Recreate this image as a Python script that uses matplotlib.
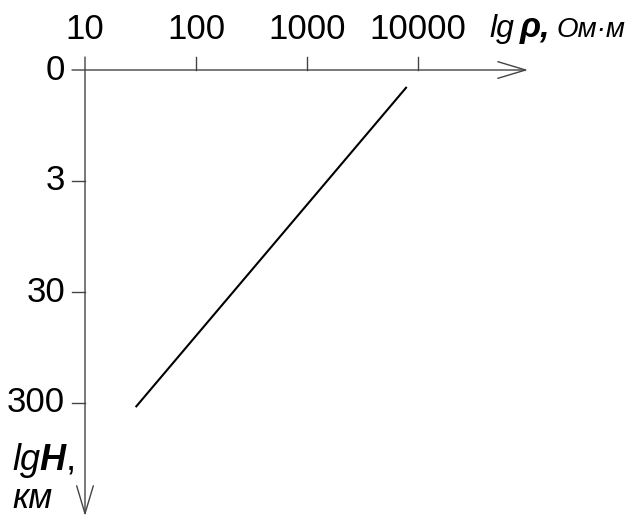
import numpy as np
import matplotlib
matplotlib.use('Agg')
import matplotlib.pyplot as plt

# resistivity axis (Ohm*m), log scale
rho_ticks = [10, 100, 1000, 10000]
rho_labels = ['10', '100', '1000', '10000']
# depth axis: one decade per step, labels as drawn
depth_pos = [0, 1, 2, 3]
depth_labels = ['0', '3', '30', '300']
# the line: resistivity vs depth position
line_rho = [7800, 29]
line_depth = [0.16, 3.03]

plt.rcParams['font.family'] = ['Liberation Sans', 'DejaVu Sans']

fig = plt.figure(figsize=(6.39, 5.29), dpi=100)
ax = fig.add_axes([0, 0, 1, 1])
ax.set_xscale('log')
# 10 -> px 85, one decade = 111 px ; depth 0 -> px 70, one step = 111 px
ax.set_xlim(10 ** (1 - 85 / 111), 10 ** (1 + 554 / 111))
ax.set_ylim((529 - 70) / 111, -70 / 111)
ax.axis('off')

axc = '#444444'
arrow = dict(arrowstyle='->, head_length=1.0, head_width=0.3',
             color=axc, lw=1, mutation_scale=20, shrinkA=0, shrinkB=0)
ax.annotate('', xy=(10 ** (1 + 443 / 111), 0), xytext=(10 ** (1 - 13 / 111), 0),
            arrowprops=arrow)
ax.annotate('', xy=(10, (516 - 70) / 111), xytext=(10, -13 / 111),
            arrowprops=arrow)

# ticks
for t, lab in zip(rho_ticks, rho_labels):
    if t != 10:
        ax.plot([t, t], [0, -13 / 111], color=axc, lw=1)
    ax.text(t, -31 / 111, lab, ha='center', va='baseline', fontsize=25)
for p, lab in zip(depth_pos, depth_labels):
    if p != 0:
        ax.plot([10 ** (1 - 13 / 111), 10], [p, p], color=axc, lw=1)
    ax.text(10 ** (1 - 20 / 111), p, lab, ha='right', va='center', fontsize=25)

ax.plot(line_rho, line_depth, color='black', lw=1.5)

# axis titles
def t(x, y, s, **kw):
    fig.text(x / 639, 1 - y / 529, s, va='baseline', **kw)

t(489, 37, 'lg', fontsize=23, style='italic')
t(520, 37, 'ρ,', fontsize=25, style='italic', weight='bold')
t(557, 37, 'Ом·м', fontsize=20, style='italic')
t(12, 470, 'lg', fontsize=26, style='italic')
t(39, 470, 'H', fontsize=26, style='italic', weight='bold')
t(66, 470, ',', fontsize=26)
t(12, 508, 'км', fontsize=25, style='italic')

fig.savefig('out.png', dpi=100)
